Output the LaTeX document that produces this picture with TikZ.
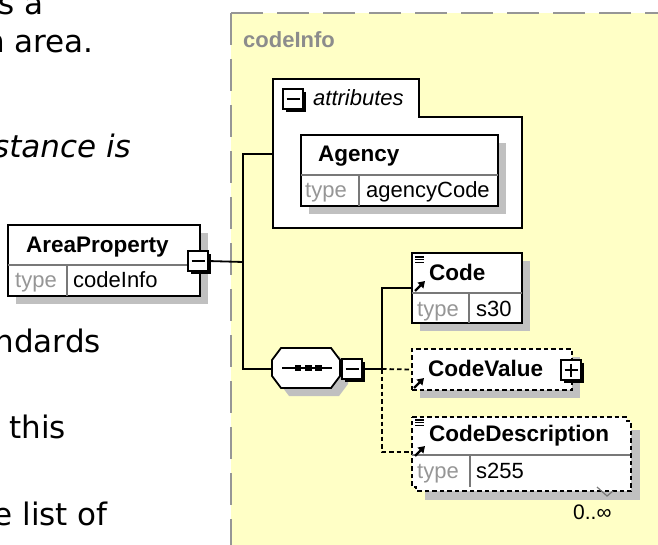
\documentclass[tikz,border=0pt]{standalone}
\usepackage{fontspec}
\setmainfont{Liberation Sans}
\newfontfamily\leftfont{DejaVu Sans}
\usetikzlibrary{shadows,arrows.meta}
\definecolor{bgyellow}{RGB}{255,255,198}
\definecolor{shadowgray}{RGB}{192,192,192}
\definecolor{bordergray}{RGB}{150,150,150}
\definecolor{typegray}{RGB}{150,150,150}
\definecolor{divgray}{RGB}{120,120,120}
\definecolor{titlegray}{RGB}{140,140,140}
\tikzset{
  elem/.style={draw=black, fill=white, line width=1.8bp, inner sep=0pt},
  shad/.style={drop shadow={shadow xshift=8bp, shadow yshift=-8bp, fill=shadowgray, opacity=1}},
  optdash/.style={dash pattern=on 4.5bp off 3bp},
  conn/.style={line width=1.8bp, draw=black},
  divline/.style={draw=divgray, line width=1.2bp},
  pmbox/.style={draw=black, fill=white, line width=1.6bp, minimum size=20bp, inner sep=0pt, outer sep=0pt,
    drop shadow={shadow xshift=3bp, shadow yshift=-3bp, fill=black, opacity=1}},
  pmsign/.style={line width=1.6bp},
  lbl/.style={inner sep=0pt, anchor=base west, font=\fontsize{22bp}{26bp}\selectfont},
  boldlbl/.style={lbl, font=\fontsize{22.5bp}{26bp}\selectfont\bfseries},
  typelbl/.style={lbl, text=typegray},
  lefttxt/.style={inner sep=0pt, anchor=base east, font=\leftfont\fontsize{31bp}{36bp}\selectfont},
  lines icon/.pic={\draw[line width=1.2bp] (0,0) -- (9,0) (0,2.8) -- (9,2.8) (0,5.6) -- (9,5.6);},
  ref icon/.pic={\draw[line width=2.3bp, -{Triangle[length=6.5bp,width=8bp]}] (0,0) -- (10,-10);}
}
\begin{document}
\begin{tikzpicture}[x=1bp, y=-1bp]
\useasboundingbox (0,0) rectangle (658,545);
\clip (0,0) rectangle (658,545);

% left text (cut off)
\node[lefttxt] (l1) at (44,15) {s a};
\node[lefttxt] (l2) at (94,53) {n area.};
\node[lefttxt] (l3) at (131,158) {\itshape stance is};
\node[lefttxt] (l4) at (101,352) {ndards};
\node[lefttxt] (l5) at (66,438) {s this};
\node[lefttxt] (l6) at (108,525) {e list of};

% complex type area
\fill[bgyellow] (231,13) rectangle (662,549);
\draw[bordergray, line width=2bp, dash pattern=on 32bp off 14bp] (231,13) -- (231,549);
\draw[bordergray, line width=2bp, dash pattern=on 32bp off 14bp] (231,13) -- (662,13);
\node[lbl, text=titlegray, font=\fontsize{22bp}{26bp}\selectfont\bfseries] (ctitle) at (243,48) {codeInfo};

% AreaProperty
\node[elem, shad, minimum width=192bp, minimum height=71bp] (area) at (104,260.5) {};
\draw[divline] (8,265) -- (200,265) (67,265) -- (67,296);
\node[boldlbl] (areaname) at (26,253) {AreaProperty};
\node[typelbl] (areatype) at (15,287) {type};
\node[lbl] (areatypev) at (73,287) {codeInfo};
\node[pmbox] (areaminus) at (198,261) {};
\draw[pmsign] (areaminus.center) +(-6.5,0) -- +(6.5,0);

% attributes
\draw[elem] (273,79) -- (419,79) -- (419,117) -- (522,117) -- (522,228) -- (273,228) -- cycle;
\coordinate (attrL) at (273,154);
\node[pmbox] (attrminus) at (293,99) {};
\draw[pmsign] (attrminus.center) +(-6.5,0) -- +(6.5,0);
\node[lbl, font=\fontsize{22bp}{26bp}\selectfont\itshape] (attrlbl) at (313,106) {attributes};

% Agency
\node[elem, shad, minimum width=197bp, minimum height=71bp] (agency) at (399.5,170.5) {};
\draw[divline] (301,175) -- (498,175) (359,175) -- (359,206);
\node[boldlbl] (agencyname) at (318,162) {Agency};
\node[typelbl] (agencytype) at (305,198) {type};
\node[lbl] (agencytypev) at (366,198) {agencyCode};

% sequence
\draw[elem, shad] (272,360) -- (281,348) -- (331,348) -- (340,360) -- (340,376) -- (331,388) -- (281,388) -- (272,376) -- cycle;
\coordinate (seqL) at (272,369);
\draw[line width=1.6bp] (282,368) -- (332,368);
\foreach \sx in {298,308.5,318.5} \fill (\sx,368) +(-3.2,-3) rectangle +(3.2,3);
\node[pmbox] (seqminus) at (352,369) {};
\draw[pmsign] (seqminus.center) +(-6.5,0) -- +(6.5,0);

% Code
\node[elem, shad, minimum width=110bp, minimum height=70bp] (code) at (467,288) {};
\draw[divline] (412,293) -- (522,293) (469,293) -- (469,323);
\pic at (415,257) {lines icon};
\pic at (415,291) {ref icon};
\node[boldlbl] (codename) at (429,280) {Code};
\node[typelbl] (codetype) at (417,316) {type};
\node[lbl] (codetypev) at (476,316) {s30};

% CodeValue
\node[elem, shad, optdash, minimum width=160bp, minimum height=41bp] (cvalue) at (492,369.5) {};
\pic at (414,388) {ref icon};
\node[boldlbl] (cvaluename) at (428,376) {CodeValue};
\node[pmbox] (cvalueplus) at (571,370) {};
\draw[pmsign] (cvalueplus.center) +(-6.5,0) -- +(6.5,0) (cvalueplus.center) +(0,-6.5) -- +(0,6.5);

% CodeDescription
\fill[shadowgray] (425,430) rectangle (640,500);
\draw[elem, optdash] (412,417) -- (627,417) -- (627,421) -- (631,421) -- (631,491) -- (416,491) -- (416,487) -- (412,487) -- cycle;
\coordinate (cdescL) at (412,452);
\draw[divline] (412,455) -- (630,455) (470,455) -- (470,487);
\pic at (415,420) {lines icon};
\pic at (415,456) {ref icon};
\node[boldlbl] (cdescname) at (429,441) {CodeDescription};
\node[typelbl] (cdesctype) at (417,478) {type};
\node[lbl] (cdesctypev) at (476,478) {s255};
\draw[line width=1.2bp, divgray] (597,487) -- (607,496) -- (613,491);
\node[lbl, font=\fontsize{21bp}{24bp}\selectfont] (mult) at (573,519) {0..∞};

% connectors
\coordinate (j1) at (243,262);
\coordinate (j2) at (382,369);
\draw[conn] (areaminus.east) -- (j1);
\draw[conn] (attrL) -| (j1) |- (seqL);
\draw[conn] (seqminus.east) -- (j2);
\draw[conn] (j2) |- (code.west);
\draw[conn, optdash] (j2) -- (cvalue.west);
\draw[conn, optdash] (j2) |- (cdescL);
\end{tikzpicture}
\end{document}
